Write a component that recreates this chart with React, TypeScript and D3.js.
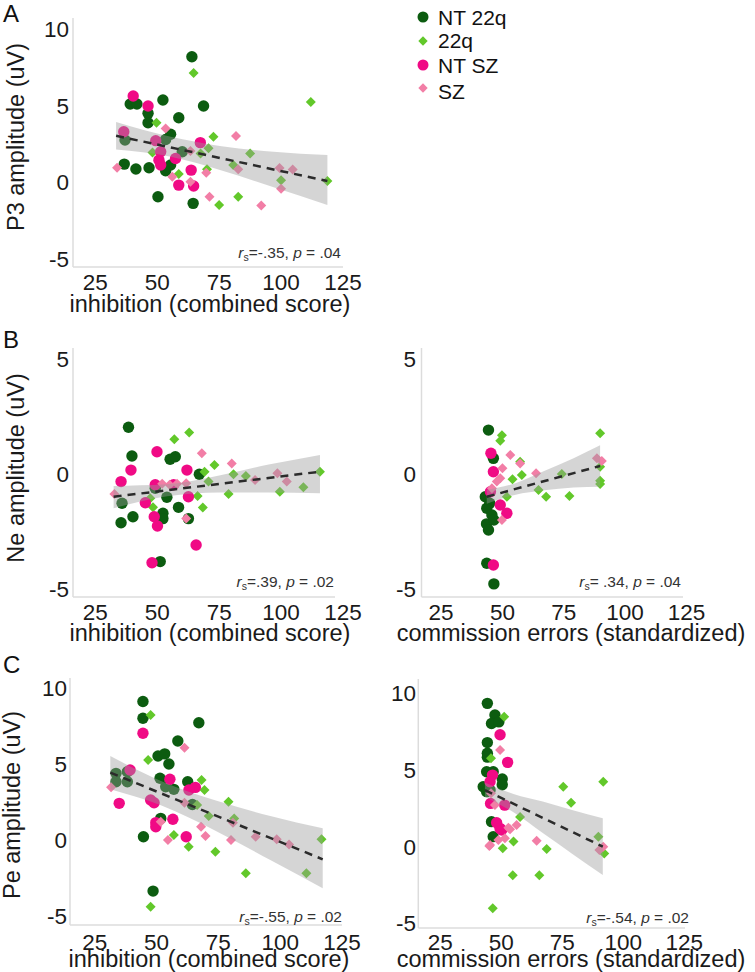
import React from "react";
import * as d3 from "d3";

const FONT = "'Liberation Sans', Arial, Helvetica, sans-serif";

const GROUPS = ["NT 22q", "22q", "NT SZ", "SZ"];
const GROUP_COLORS = ["#0c5c10", "#62c82a", "#f00a85", "#f27ea6"];
const GROUP_SHAPES = ["circle", "diamond", "circle", "diamond"];

const X_TICKS = [25, 50, 75, 100, 125];
const Y_TICKS_WIDE = [10, 5, 0, -5];
const Y_TICKS_NARROW = [5, 0, -5];

type P = [number, number];

// ---------- Panel A : P3 vs inhibition ----------
const A_NT22Q: P[] = [[64, 8.15], [39.1, 5.07], [41.8, 5.07], [52.3, 5.33], [46.3, 4.46], [46.3, 3.85], [68.7, 4.94], [58.7, 4.17], [37, 2.72], [55.4, 3.1], [53.4, 2.76], [60.1, 1.96], [55.4, 1.09], [53.4, 0.72], [36.7, 1.15], [41.4, 0.83], [46.7, 0.91], [50.3, -0.98], [64.5, -1.41]];
const A_22Q: P[] = [[64.7, 7.1], [112, 5.2], [49.7, 3.85], [72.7, 2.94], [70.7, 2.18], [48.1, 1.9], [87.5, 1.85], [80.7, 1.09], [70.1, 0.81], [58.7, 0.5], [100, 0.1], [118.7, 0.05], [82.7, -0.98], [75, -1.52], [67.5, 1.85]];
const A_NTSZ: P[] = [[40.3, 5.59], [46.3, 4.94], [36.5, 3.26], [49.4, 2.68], [67.4, 2.55], [51.4, 1.96], [50.7, 1.41], [51.4, 1.09], [57.4, 1.52], [63.7, 0.76], [64.7, -0.28], [58.7, -0.22]];
const A_SZ: P[] = [[33.8, 0.91], [53.4, 3.48], [81.8, 2.98], [63.4, 2.0], [56.1, 0.33], [69.8, 0.59], [63.4, 0], [71.1, -0.98], [82.7, 0.81], [99.4, 0.9], [104.7, 0.8], [100, -0.45], [92, -1.55]];
const A_FIT_X = [33.4, 118.7];
const A_FIT_Y = [3.0, 0.05];
const A_BAND_X = [33.4, 55, 76, 97, 118.7];
const A_BAND_LO = [2.1, 1.65, 0.74, -0.36, -1.52];
const A_BAND_HI = [3.9, 2.95, 2.32, 1.96, 1.74];

// ---------- Panel B left : Ne vs inhibition ----------
const BL_NT22Q: P[] = [[38.4, 2.0], [39.8, 0.75], [55.2, 0.61], [57.3, 0.72], [67, -0.04], [35.8, -1.3], [49.2, -0.65], [53.9, -1.04], [58.6, -1.48], [52.3, -1.74], [52.3, -1.97], [40.2, -1.89], [35.4, -2.15], [62.6, -1.97], [51.2, -3.84]];
const BL_22Q: P[] = [[56.9, 1.48], [62.9, 1.77], [73.1, 0.36], [69.1, 0.07], [80.8, -0.04], [85.8, -0.12], [70.7, -0.36], [47.2, -1.09], [48.3, -1.48], [66.3, -0.99], [78.8, -0.9], [68.4, -1.49], [99.5, -0.8], [109, -0.61], [115.7, 0.07]];
const BL_NTSZ: P[] = [[49.9, 0.94], [39.4, 0.14], [62, 0.14], [35.4, -0.36], [49.2, -0.5], [56.6, -0.5], [62.6, -1.02], [45.2, -1.28], [48.8, -1.89], [50.1, -2.29], [65.7, -3.12], [47.9, -3.89]];
const BL_SZ: P[] = [[68, 0.87], [80.1, 0.43], [32.7, -0.9], [52, -0.45], [55, -0.5], [58, -0.45], [61.7, -0.43], [61.7, -1.97], [98.5, 0.0], [102.3, -0.36], [89.5, -0.29]];
const BL_FIT_X = [32.4, 115.7];
const BL_FIT_Y = [-1.02, 0.07];
const BL_BAND_X = [32.4, 54, 75, 95, 115.7];
const BL_BAND_LO = [-1.52, -1.0, -0.83, -0.84, -0.87];
const BL_BAND_HI = [-0.55, -0.48, -0.1, 0.38, 0.8];

// ---------- Panel B right : Ne vs commission errors ----------
const BR_NT22Q: P[] = [[44.3, 1.88], [46.3, 0.65], [43, -1.02], [44.8, -1.3], [43.6, -1.52], [45.7, -1.81], [43.5, -2.2], [44.3, -2.47], [46.5, -2.03], [43.6, -3.91], [46.5, -4.81]];
const BR_22Q: P[] = [[49.8, 1.66], [49.1, 1.42], [54.1, -0.26], [57.9, -0.07], [57.2, 0.5], [51.8, -1.02], [64.7, -0.73], [67.8, -1.02], [74.2, -0.03], [77.3, -0.99], [89.8, 1.74], [89.8, 0.29], [89.8, -0.32], [89.8, -0.47]];
const BR_NTSZ: P[] = [[45.3, 0.87], [46.3, 0.07], [45.1, -0.8], [49.1, -1.38], [51.8, -1.74], [46.3, -3.99]];
const BR_SZ: P[] = [[53.2, 0.8], [57.2, 0.43], [50, 0.22], [47.7, -0.36], [49.1, -0.22], [45.7, -0.65], [49.8, -2.03], [63.7, 0], [88.5, 0.65], [90.5, 0.53]];
const BR_FIT_X = [43.6, 89.8];
const BR_FIT_Y = [-1.02, 0.32];
const BR_BAND_X = [43.6, 55, 67, 79, 89.8];
const BR_BAND_LO = [-1.32, -0.94, -0.74, -0.62, -0.58];
const BR_BAND_HI = [-0.72, -0.44, 0.1, 0.66, 1.22];

// ---------- Panel C left : Pe vs inhibition ----------
const CL_NT22Q: P[] = [[44.5, 9.07], [44.5, 7.97], [67.1, 7.68], [58.6, 6.48], [50.6, 5.49], [53.3, 5.63], [55, 4.97], [33.6, 4.35], [38.2, 4.46], [33.6, 3.8], [38.2, 3.8], [51.4, 4.03], [62.6, 3.8], [53.7, 3.47], [57, 3.3], [64.5, 2.3], [51.7, 1.39], [44.7, 0.18], [48.6, -3.39]];
const CL_22Q: P[] = [[47.6, 8.19], [46.6, 5.23], [68.2, 3.91], [69.4, 3.26], [66.4, 2.27], [79.1, 2.49], [71.1, 1.55], [81.4, 1.39], [57, 0.3], [63, -0.47], [73.8, -0.8], [86.1, -2.22], [110.6, -2.22], [116.7, 0.01], [47.6, -4.42]];
const CL_NTSZ: P[] = [[44.5, 6.99], [39.3, 4.57], [34.9, 2.38], [55.4, 3.96], [65.7, 3.43], [63.1, 3.26], [47.6, 2.6], [49, 2.42], [49.7, 1.11], [49.7, 0.84], [56.6, 1.33], [62, 0.18]];
const CL_SZ: P[] = [[61.3, 6.04], [31.6, 3.43], [61.3, 2.42], [80.9, 1.11], [51.7, 1.17], [54.6, -0.03], [68, 0.84], [69.8, 0.23], [80.1, -0.03], [90.1, 0.18], [98.6, 0.01], [103.6, -0.32]];
const CL_FIT_X = [31.3, 117.2];
const CL_FIT_Y = [4.4, -1.3];
const CL_BAND_X = [31.3, 52, 74, 96, 117.2];
const CL_BAND_LO = [3.3, 2.23, 0.56, -1.35, -3.21];
const CL_BAND_HI = [5.49, 3.83, 2.56, 1.55, 0.74];

// ---------- Panel C right : Pe vs commission errors ----------
const CR_NT22Q: P[] = [[44.3, 9.31], [47.4, 8.55], [46, 8.0], [49, 8.1], [44.3, 6.75], [44.3, 6.05], [44.3, 5.8], [44, 4.85], [46.7, 4.85], [50.4, 4.37], [50.4, 4.0], [42.6, 3.87], [44, 3.55], [45.4, 3.65], [46, 1.59], [46.7, 0.61]];
const CR_22Q: P[] = [[51.2, 8.44], [45.8, 5.72], [75.4, 3.87], [78.6, 2.83], [91.8, 4.2], [57.7, 1.9], [55, 0.3], [50.6, -0.15], [68.6, -0.2], [54.7, -1.9], [65.6, -1.9], [46.5, -4.06], [89.8, 0.61], [92.2, -0.48]];
const CR_NTSZ: P[] = [[49.5, 7.26], [52.6, 5.46], [46.4, 4.63], [45.4, 4.19], [45.6, 2.78], [51.4, 2.67], [48.1, 1.52], [49.5, 1.15], [50.2, 1.04]];
const CR_SZ: P[] = [[49.5, 6.26], [45.8, 3.44], [47.4, 2.67], [52.9, 1.2], [56.3, 1.37], [53.6, 1.09], [45.4, 0.06], [48.8, 0.4], [51.5, 0.5], [64.5, 0.35], [45.1, 0], [90.2, -0.26], [91.8, -0.04]];
const CR_FIT_X = [43.3, 91.6];
const CR_FIT_Y = [3.65, -0.04];
const CR_BAND_X = [43.3, 55, 67, 79, 91.6];
const CR_BAND_LO = [3.2, 2.2, 0.85, -0.5, -1.89];
const CR_BAND_HI = [4.15, 3.4, 2.9, 2.35, 1.81];

const ANNOT = [
  { r: "=-.35, ", p: " = .04" },
  { r: "=.39, ", p: " = .02" },
  { r: "= .34, ", p: " = .04" },
  { r: "=-.55, ", p: " = .02" },
  { r: "=-.54, ", p: " = .02" },
];

type Layout = {
  xr: [number, number]; xd: [number, number]; xEnd: number;
  yr: [number, number]; yd: [number, number];
  yTicks: number[]; yTickX: number; xTickY: number;
  xLabel: string; xLabelX: number; xLabelY: number;
  yLabel?: string; yLabelX?: number; yLabelY?: number;
  annX: number; annY: number;
};

const PANELS: { layout: Layout; groups: P[][]; fitX: number[]; fitY: number[]; bx: number[]; blo: number[]; bhi: number[]; ann: number }[] = [
  {
    layout: { xr: [73, 343], xd: [16, 125], xEnd: 343, yr: [267, 18], yd: [-5.56, 10.68], yTicks: Y_TICKS_WIDE, yTickX: 69, xTickY: 290, xLabel: "inhibition (combined score)", xLabelX: 210, xLabelY: 312, yLabel: "P3 amplitude (uV)", yLabelX: 24, yLabelY: 137, annX: 341, annY: 258 },
    groups: [A_NT22Q, A_22Q, A_NTSZ, A_SZ], fitX: A_FIT_X, fitY: A_FIT_Y, bx: A_BAND_X, blo: A_BAND_LO, bhi: A_BAND_HI, ann: 0,
  },
  {
    layout: { xr: [73, 343], xd: [16, 125], xEnd: 335, yr: [597, 348], yd: [-5.38, 5.45], yTicks: Y_TICKS_NARROW, yTickX: 69, xTickY: 620, xLabel: "inhibition (combined score)", xLabelX: 210, xLabelY: 641, yLabel: "Ne amplitude (uV)", yLabelX: 24, yLabelY: 468, annX: 334, annY: 587 },
    groups: [BL_NT22Q, BL_22Q, BL_NTSZ, BL_SZ], fitX: BL_FIT_X, fitY: BL_FIT_Y, bx: BL_BAND_X, blo: BL_BAND_LO, bhi: BL_BAND_HI, ann: 1,
  },
  {
    layout: { xr: [421.5, 684], xd: [17, 124], xEnd: 683, yr: [597, 348], yd: [-5.38, 5.45], yTicks: Y_TICKS_NARROW, yTickX: 416, xTickY: 620, xLabel: "commission errors (standardized)", xLabelX: 571, xLabelY: 641, annX: 681, annY: 587 },
    groups: [BR_NT22Q, BR_22Q, BR_NTSZ, BR_SZ], fitX: BR_FIT_X, fitY: BR_FIT_Y, bx: BR_BAND_X, blo: BR_BAND_LO, bhi: BR_BAND_HI, ann: 2,
  },
  {
    layout: { xr: [70, 342], xd: [15, 125], xEnd: 342, yr: [925, 678], yd: [-5.62, 10.62], yTicks: Y_TICKS_WIDE, yTickX: 67, xTickY: 950, xLabel: "inhibition (combined score)", xLabelX: 209, xLabelY: 967, yLabel: "Pe amplitude (uV)", yLabelX: 20, yLabelY: 805, annX: 342, annY: 922 },
    groups: [CL_NT22Q, CL_22Q, CL_NTSZ, CL_SZ], fitX: CL_FIT_X, fitY: CL_FIT_Y, bx: CL_BAND_X, blo: CL_BAND_LO, bhi: CL_BAND_HI, ann: 3,
  },
  {
    layout: { xr: [418.3, 684.3], xd: [16, 125], xEnd: 685, yr: [928, 679], yd: [-5.35, 10.9], yTicks: Y_TICKS_WIDE, yTickX: 416, xTickY: 950, xLabel: "commission errors (standardized)", xLabelX: 571, xLabelY: 967, annX: 689, annY: 923 },
    groups: [CR_NT22Q, CR_22Q, CR_NTSZ, CR_SZ], fitX: CR_FIT_X, fitY: CR_FIT_Y, bx: CR_BAND_X, blo: CR_BAND_LO, bhi: CR_BAND_HI, ann: 4,
  },
];

const LETTERS = [
  { t: "A", x: 3, y: 22 },
  { t: "B", x: 3, y: 348 },
  { t: "C", x: 3, y: 673 },
];

const LEGEND_MARK_Y = [17, 41, 65, 88];
const LEGEND_TEXT_Y = [25, 48, 73, 99];

function Marker({ shape, color, x, y, r }: { shape: string; color: string; x: number; y: number; r: number }) {
  if (shape === "circle") return <circle cx={x} cy={y} r={r} fill={color} />;
  const d = r - 0.3;
  return <path d={`M${x},${y - d}L${x + d},${y}L${x},${y + d}L${x - d},${y}Z`} fill={color} />;
}

function Panel({ p }: { p: (typeof PANELS)[number] }) {
  const L = p.layout;
  const x = d3.scaleLinear().domain(L.xd).range(L.xr);
  const y = d3.scaleLinear().domain(L.yd).range(L.yr);
  const bandData = p.bx.map((bx, i) => ({ x: bx, lo: p.blo[i], hi: p.bhi[i] }));
  const area = d3
    .area<{ x: number; lo: number; hi: number }>()
    .x((d) => x(d.x))
    .y0((d) => y(d.lo))
    .y1((d) => y(d.hi))
    .curve(d3.curveMonotoneX);
  const line = d3
    .line<number>()
    .x((_, i) => x(p.fitX[i]))
    .y((d) => y(d));
  const ann = ANNOT[p.ann];
  return (
    <g>
      <line x1={L.xr[0]} x2={L.xr[0]} y1={L.yr[1]} y2={L.yr[0]} stroke="#dcdcdc" strokeWidth={1.5} />
      <line x1={L.xr[0]} x2={L.xEnd} y1={L.yr[0]} y2={L.yr[0]} stroke="#dcdcdc" strokeWidth={1.5} />
      {L.yTicks.map((t) => (
        <text key={"y" + t} x={L.yTickX} y={y(t) + 8.5} textAnchor="end" fontSize={22.5} fill="#1a1a1a">
          {t}
        </text>
      ))}
      {X_TICKS.map((t) => (
        <text key={"x" + t} x={x(t)} y={L.xTickY} textAnchor="middle" fontSize={22.5} fill="#1a1a1a">
          {t}
        </text>
      ))}
      <text x={L.xLabelX} y={L.xLabelY} textAnchor="middle" fontSize={23.5} fill="#1a1a1a">
        {L.xLabel}
      </text>
      {L.yLabel && (
        <text transform={`translate(${L.yLabelX},${L.yLabelY}) rotate(-90)`} textAnchor="middle" fontSize={23.5} fill="#1a1a1a">
          {L.yLabel}
        </text>
      )}
      {p.groups.map((g, gi) =>
        g.map((pt, i) => (
          <Marker key={gi + "-" + i} shape={GROUP_SHAPES[gi]} color={GROUP_COLORS[gi]} x={x(pt[0])} y={y(pt[1])} r={GROUP_SHAPES[gi] === "circle" ? 5.7 : 5.3} />
        ))
      )}
      <path d={area(bandData) || ""} fill="#9a9a9a" fillOpacity={0.42} />
      <path d={line(p.fitY) || ""} fill="none" stroke="#2b2b2b" strokeWidth={2.5} strokeDasharray="8,6" />
      <text x={L.annX} y={L.annY} textAnchor="end" fontSize={15.5} fill="#333">
        <tspan fontStyle="italic">r</tspan>
        <tspan fontSize={10.5} dy={3}>s</tspan>
        <tspan dy={-3}>{ann.r}</tspan>
        <tspan fontStyle="italic">p</tspan>
        <tspan>{ann.p}</tspan>
      </text>
    </g>
  );
}

export default function App() {
  return (
    <svg width={755} height={972} viewBox="0 0 755 972" style={{ position: "absolute", left: 0, top: 0, background: "#fff" }} fontFamily={FONT}>
      <rect x={0} y={0} width={755} height={972} fill="#fff" />
      {PANELS.map((p, i) => (
        <Panel key={i} p={p} />
      ))}
      {LETTERS.map((l) => (
        <text key={l.t} x={l.x} y={l.y} fontSize={24} fill="#111">
          {l.t}
        </text>
      ))}
      {GROUPS.map((g, i) => (
        <g key={g}>
          <Marker shape={GROUP_SHAPES[i]} color={GROUP_COLORS[i]} x={423} y={LEGEND_MARK_Y[i]} r={GROUP_SHAPES[i] === "circle" ? 5.5 : 5} />
          <text x={438} y={LEGEND_TEXT_Y[i]} fontSize={21} fill="#111">
            {g}
          </text>
        </g>
      ))}
    </svg>
  );
}
